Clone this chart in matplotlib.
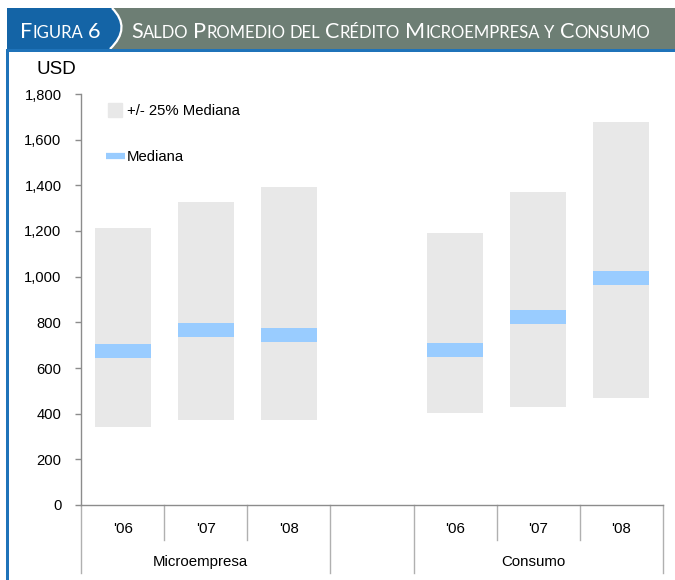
import numpy as np
import matplotlib
matplotlib.use("Agg")
import matplotlib.pyplot as plt
from matplotlib.patches import Rectangle, PathPatch
from matplotlib.path import Path
from matplotlib.lines import Line2D
from matplotlib.ticker import FuncFormatter

plt.rcParams['font.family'] = ['Liberation Sans', 'DejaVu Sans']

# datos (USD), rango +/- 25% alrededor de la mediana
groups = ["Microempresa", "Consumo"]
years = ["'06", "'07", "'08"]
micro_low = [343, 374, 374]
micro_high = [1213, 1327, 1393]
micro_median = [675, 767, 745]
consumo_low = [404, 431, 470]
consumo_high = [1191, 1371, 1678]
consumo_median = [680, 823, 995]
yticks = [0, 200, 400, 600, 800, 1000, 1200, 1400, 1600, 1800]

title_left = "Figura 6"
title_right = "Saldo Promedio del Crédito Microempresa y Consumo"

GRAY_BAR = '#e8e8e8'
BLUE_BAR = '#99ccff'
HDR_GRAY = '#6d7e74'
HDR_BLUE = '#1464a6'
LINE_BLUE = '#1f73b9'
AX_GRAY = '#8c8c8c'
BAND = 60      # grosor de la franja de la mediana
BAR_W = 0.675

W, H = 675, 580
fig = plt.figure(figsize=(W / 100, H / 100), dpi=100)

# capa en pixeles para el encabezado y el marco
hx = fig.add_axes([0, 0, 1, 1])
hx.set_xlim(0, W)
hx.set_ylim(H, 0)
hx.axis('off')
hx.add_patch(Rectangle((7, 8), W - 7, 41, color=HDR_GRAY, lw=0))
blue_box = Path([(7, 8), (112, 8), (132, 28), (110, 49), (7, 49), (7, 8)],
                [Path.MOVETO, Path.LINETO, Path.CURVE3, Path.CURVE3, Path.LINETO, Path.CLOSEPOLY])
hx.add_patch(PathPatch(blue_box, fc=HDR_BLUE, lw=0))
hx.add_patch(PathPatch(Path([(112, 8), (132, 28), (110, 49)],
                            [Path.MOVETO, Path.CURVE3, Path.CURVE3]),
                       fc='none', ec='white', lw=1.6))
hx.add_patch(Rectangle((7, 48.5), W - 7, 3, color=LINE_BLUE, lw=0))
hx.add_patch(Rectangle((6, 49), 3, H - 49, color=LINE_BLUE, lw=0))


def small_caps(text, x, y, big, small, space=3.5):
    prev = None
    for wi, word in enumerate(text.split()):
        runs = []
        for ch in word:
            size = small if ch.islower() else big
            if runs and runs[-1][1] == size:
                runs[-1][0] += ch.upper()
            else:
                runs.append([ch.upper(), size])
        for ri, (s, size) in enumerate(runs):
            kw = dict(fontsize=size, color='white', family=['Lato', 'DejaVu Sans'],
                      va='baseline', ha='left')
            if prev is None:
                prev = hx.text(x, y, s, **kw)
            else:
                gap = space if (ri == 0 and wi > 0) else 0
                prev = hx.annotate(s, xy=(1, y), xycoords=(prev, 'data'),
                                   xytext=(gap, 0), textcoords='offset points', **kw)


small_caps(title_left, 20, 38, 15.6, 12)
small_caps(title_right, 131, 38, 15.6, 12)

# grafico principal
ax = fig.add_axes([81 / W, 1 - 505 / H, (663 - 81) / W, (505 - 94) / H])
ax.patch.set_alpha(0)

x_micro = np.arange(len(years))
x_cons = x_micro + len(years) + 1
for xs, lo, hi, med in [(x_micro, micro_low, micro_high, micro_median),
                        (x_cons, consumo_low, consumo_high, consumo_median)]:
    lo, hi, med = np.array(lo), np.array(hi), np.array(med)
    ax.bar(xs, hi - lo, bottom=lo, width=BAR_W, color=GRAY_BAR, lw=0)
    ax.bar(xs, BAND, bottom=med - BAND / 2, width=BAR_W, color=BLUE_BAR, lw=0)

n_slots = len(years) * 2 + 1
ax.set_xlim(-0.5, n_slots - 0.5)
ax.set_ylim(0, 1800)
ax.set_yticks(yticks)
ax.yaxis.set_major_formatter(FuncFormatter(lambda v, p: f"{v:,.0f}"))
ax.set_xticks([])
ax.tick_params(axis='y', direction='out', length=4, width=1, color=AX_GRAY,
               pad=10, labelsize=10.6, labelcolor='black')
for side in ['top', 'right']:
    ax.spines[side].set_visible(False)
for side in ['left', 'bottom']:
    ax.spines[side].set_color(AX_GRAY)
    ax.spines[side].set_linewidth(1)

# etiquetas de categorias en dos niveles
tr = ax.get_xaxis_transform()
y_short, y_long = -35 / 411, -68 / 411
for xs, g in [(x_micro, groups[0]), (x_cons, groups[1])]:
    for xi, yr in zip(xs, years):
        ax.text(xi, -24 / 411, yr, transform=tr, ha='center', va='center', fontsize=10.8)
    for b in xs[:-1] + 0.5:
        ax.plot([b, b], [0, y_short], transform=tr, color='#b0b0b0', lw=1, clip_on=False)
    ax.text(xs.mean() - 0.06, -57 / 411, g, transform=tr, ha='center', va='center', fontsize=10.8)
for b in [x_micro[0] - 0.5, x_micro[-1] + 0.5, x_cons[0] - 0.5, x_cons[-1] + 0.5]:
    ax.plot([b, b], [0, y_long], transform=tr, color='#b0b0b0', lw=1, clip_on=False)

hx.text(37, 70, "USD", fontsize=13.5, ha='left', va='center')

handles = [Line2D([], [], marker='s', ms=9.8, color=GRAY_BAR, ls='none'),
           Line2D([], [], color=BLUE_BAR, lw=4.5, solid_capstyle='butt')]
ax.legend(handles, ["+/- 25% Mediana", "Mediana"], loc='upper left',
          bbox_to_anchor=(106, 104), bbox_transform=hx.transData, frameon=False,
          fontsize=10.7, handlelength=1.25, handletextpad=0.15, labelspacing=2.15,
          borderpad=0, borderaxespad=0)

fig.savefig("out.png", dpi=100)
